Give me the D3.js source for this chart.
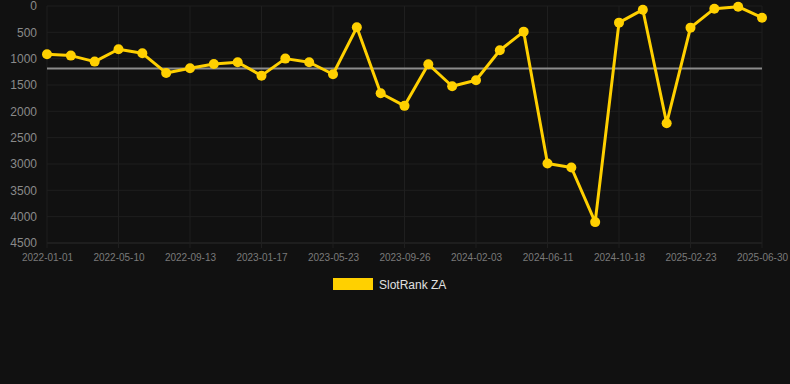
<!DOCTYPE html>
<html>
<head>
<meta charset="utf-8">
<script src="https://cdn.jsdelivr.net/npm/d3@7"></script>
<style>
  html, body { margin: 0; padding: 0; background: #111111; }
  svg { display: block; }
  text { font-family: Arial, "Liberation Sans", sans-serif; }
</style>
</head>
<body>
<svg></svg>
<script>
// SlotRank ZA over time (lower number = better rank)

const dates = [
  '2022-01-01', '2022-02-13', '2022-03-28', '2022-05-10', '2022-06-21', '2022-08-02',
  '2022-09-13', '2022-10-25', '2022-12-06', '2023-01-17', '2023-02-28', '2023-04-11',
  '2023-05-23', '2023-07-04', '2023-08-15', '2023-09-26', '2023-11-08', '2023-12-21',
  '2024-02-03', '2024-03-16', '2024-04-29', '2024-06-11', '2024-07-24', '2024-09-05',
  '2024-10-18', '2024-11-30', '2025-01-11', '2025-02-23', '2025-04-05', '2025-05-18',
  '2025-06-30'
];

const rankValues = [
  916, 942, 1056, 822, 898, 1271,
  1182, 1100, 1068, 1322, 999, 1068,
  1296, 405, 1656, 1896, 1106, 1524,
  1410, 841, 487, 2990, 3066, 4103,
  316, 70, 2226, 411, 51, 13,
  222
];

const tickLabels = [
  '2022-01-01', '2022-05-10', '2022-09-13', '2023-01-17', '2023-05-23', '2023-09-26',
  '2024-02-03', '2024-06-11', '2024-10-18', '2025-02-23', '2025-06-30'
];

const yTicks = [0, 500, 1000, 1500, 2000, 2500, 3000, 3500, 4000, 4500];

const seriesName = 'SlotRank ZA';

document.addEventListener('DOMContentLoaded', function() {
  const width = 790;
  const height = 384;
  const margin = {top: 6, right: 28, bottom: 141, left: 47};

  const svg = d3.select('svg')
    .attr('width', width)
    .attr('height', height);

  const x = d3.scalePoint()
    .domain(dates)
    .range([margin.left, width - margin.right]);

  const y = d3.scaleLinear()
    .domain([0, 4500])
    .range([margin.top, height - margin.bottom]);

  // grid
  const grid = svg.append('g');
  grid.selectAll('line.h')
    .data(yTicks)
    .join('line')
    .attr('class', 'h')
    .attr('x1', margin.left)
    .attr('x2', width - margin.right)
    .attr('y1', d => y(d))
    .attr('y2', d => y(d))
    .attr('stroke', d => d === 4500 ? '#2c2c2c' : '#1f1f1f')
    .attr('stroke-width', 1);

  grid.selectAll('line.v')
    .data(tickLabels)
    .join('line')
    .attr('class', 'v')
    .attr('x1', d => x(d))
    .attr('x2', d => x(d))
    .attr('y1', margin.top)
    .attr('y2', y(4500) + 5)
    .attr('stroke', '#1f1f1f')
    .attr('stroke-width', 1);

  // y axis labels
  const yAxis = svg.append('g')
    .attr('transform', `translate(${margin.left - 10},0)`)
    .call(d3.axisLeft(y).tickValues(yTicks).tickFormat(d3.format('d')).tickSize(0).tickPadding(0));
  yAxis.select('.domain').remove();
  yAxis.selectAll('text')
    .attr('fill', '#8a8a8a')
    .style('font-size', '12px');

  // x axis labels
  const xAxis = svg.append('g')
    .attr('transform', `translate(0,${y(4500)})`)
    .call(d3.axisBottom(x).tickValues(tickLabels).tickSize(0).tickPadding(11));
  xAxis.select('.domain').remove();
  xAxis.selectAll('text')
    .attr('fill', '#7a7a7a')
    .style('font-size', '10px');

  // average line
  const avg = d3.mean(rankValues);
  svg.append('line')
    .attr('x1', x(dates[0]))
    .attr('x2', x(dates[dates.length - 1]))
    .attr('y1', y(avg))
    .attr('y2', y(avg))
    .attr('stroke', '#8c8c8c')
    .attr('stroke-width', 2);

  // series line
  const points = dates.map((d, i) => ({date: d, value: rankValues[i]}));

  svg.append('path')
    .datum(points)
    .attr('fill', 'none')
    .attr('stroke', '#ffd000')
    .attr('stroke-width', 3)
    .attr('stroke-linejoin', 'round')
    .attr('d', d3.line().x(d => x(d.date)).y(d => y(d.value)));

  svg.append('g')
    .selectAll('circle')
    .data(points)
    .join('circle')
    .attr('cx', d => x(d.date))
    .attr('cy', d => y(d.value))
    .attr('r', 5)
    .attr('fill', '#ffd000');

  // legend
  const legend = svg.append('g').attr('transform', 'translate(333,278)');
  legend.append('rect')
    .attr('width', 40)
    .attr('height', 12)
    .attr('fill', '#ffd000');
  legend.append('text')
    .attr('x', 46)
    .attr('y', 10.5)
    .attr('fill', '#e0e0e0')
    .style('font-size', '12px')
    .text(seriesName);
});
</script>
</body>
</html>
